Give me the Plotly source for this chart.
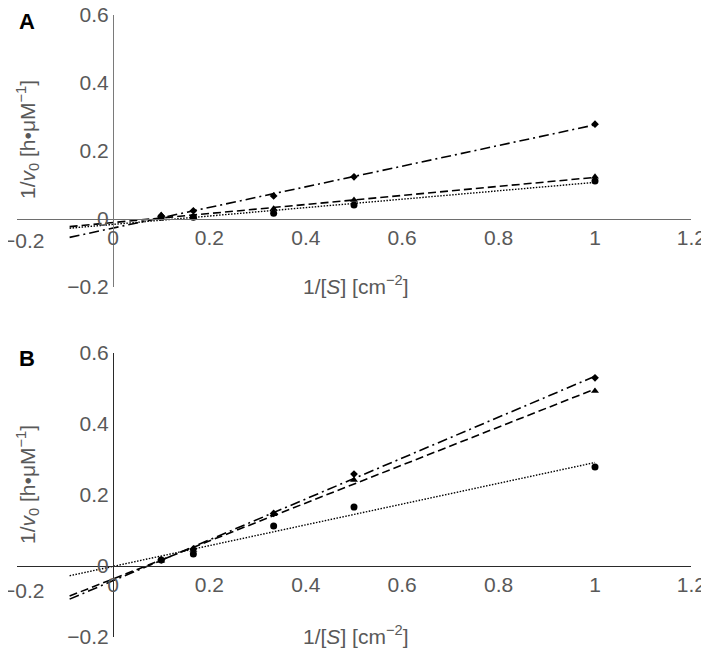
import numpy as np
import plotly.graph_objects as go

# ---- data (1/[S] in cm^-2, 1/v0 in h·µM^-1) ----
inv_s = [0.1, 0.1667, 0.3333, 0.5, 1.0]

a_diamond = [0.009, 0.024, 0.068, 0.124, 0.279]
a_triangle = [0.012, 0.005, 0.030, 0.056, 0.124]
a_circle = [0.005, 0.005, 0.017, 0.041, 0.112]

b_diamond = [0.017, 0.048, 0.148, 0.259, 0.530]
b_triangle = [0.015, 0.045, 0.146, 0.242, 0.493]
b_circle = [0.017, 0.034, 0.113, 0.166, 0.279]

trend_x_start = -0.09
trend_x_end = 1.0

x_ticks = [0, 0.2, 0.4, 0.6, 0.8, 1, 1.2]
x_tick_text = ["0", "0.2", "0.4", "0.6", "0.8", "1", "1.2"]
x_edge_label = "\u22120.2"
y_ticks = [-0.2, 0, 0.2, 0.4, 0.6]
y_tick_text = ["\u22120.2", "0", "0.2", "0.4", "0.6"]

# page body has an 8px margin; figure fills the rest of the 709x652 window
OFF = 8
W, H = 709 - OFF, 652 - OFF
FONT = "Liberation Sans, Arial, sans-serif"
TICK_COLOR = "#595959"


def px(X):
    return (X - OFF) / W


def py(Y):
    return 1 - (Y - OFF) / H


x_dom = [px(16.6), px(691.4)]
a_dom = [py(287), py(15)]
b_dom = [py(637), py(353)]

X_RANGE = [-0.2, 1.2]
Y_RANGE = [-0.2, 0.6]

series_style = [
    ("diamond", 6, "10px,4px,2px,4px", 1.6),
    ("triangle-up", 7, "8px,4px", 1.6),
    ("circle", 7, "1.5px,1.5px", 1.4),
]

fig = go.Figure()


def add_panel(xa, ya, values_list):
    for vals, (sym, msize, dash, lw) in zip(values_list, series_style):
        slope, intercept = np.polyfit(inv_s, vals, 1)
        tx = [trend_x_start, trend_x_end]
        ty = [slope * t + intercept for t in tx]
        fig.add_trace(go.Scatter(x=tx, y=ty, mode="lines", xaxis=xa, yaxis=ya,
                                 line=dict(color="black", width=lw, dash=dash),
                                 hoverinfo="skip", showlegend=False))
        fig.add_trace(go.Scatter(x=inv_s, y=vals, mode="markers", xaxis=xa, yaxis=ya,
                                 marker=dict(symbol=sym, size=msize, color="black"),
                                 showlegend=False))


add_panel("x", "y", [a_diamond, a_triangle, a_circle])
add_panel("x2", "y2", [b_diamond, b_triangle, b_circle])


def x_pos(dom):
    return dom[0] + (0 - Y_RANGE[0]) / (Y_RANGE[1] - Y_RANGE[0]) * (dom[1] - dom[0])


y_axis_x = x_dom[0] + (0 - X_RANGE[0]) / (X_RANGE[1] - X_RANGE[0]) * (x_dom[1] - x_dom[0])

TICKFONT = dict(family=FONT, size=21, color=TICK_COLOR)
common_x = dict(range=X_RANGE, domain=x_dom, anchor="free", showgrid=False, zeroline=False,
                showline=True, linewidth=1, ticks="", tickvals=x_ticks, ticktext=x_tick_text,
                tickfont=TICKFONT, automargin=False, fixedrange=True,
                ticklabeloverflow="allow")
common_y = dict(range=Y_RANGE, anchor="free", position=y_axis_x, showgrid=False, zeroline=False,
                showline=True, linewidth=1, ticks="", tickvals=y_ticks, ticktext=y_tick_text,
                tickfont=TICKFONT, automargin=False, fixedrange=True,
                ticklabeloverflow="allow")

fig.update_layout(
    width=W, height=H,
    margin=dict(l=0, r=0, t=0, b=0, autoexpand=False),
    paper_bgcolor="white", plot_bgcolor="white",
    xaxis=dict(common_x, position=x_pos(a_dom), linecolor="#6e6e6e"),
    yaxis=dict(common_y, domain=a_dom, linecolor="#7a7a7a"),
    xaxis2=dict(common_x, position=x_pos(b_dom), linecolor="#2a2a2a"),
    yaxis2=dict(common_y, domain=b_dom, linecolor="#2a2a2a"),
    font=dict(family=FONT),
)

x_title = "1/[<i>S</i>] [cm<sup>\u22122</sup>]"
y_title = "1/<i>v</i><sub>0</sub> [h\u2022\u03bcM<sup>\u22121</sup>]"

for lbl, yc in (("<b>A</b>", 22), ("<b>B</b>", 358)):
    fig.add_annotation(xref="paper", yref="paper", x=px(27), y=py(yc), text=lbl,
                       showarrow=False, xanchor="center", yanchor="middle",
                       font=dict(family=FONT, size=22, color="black"))

# leftmost x tick label, kept inside the page like in the reference
for yc in (240, 590):
    fig.add_annotation(xref="paper", yref="paper", x=px(23), y=py(yc), text=x_edge_label,
                       showarrow=False, xanchor="center", yanchor="middle",
                       font=TICKFONT)

for yc in (285, 635):
    fig.add_annotation(xref="paper", yref="paper", x=px(355), y=py(yc), text=x_title,
                       showarrow=False, xanchor="center", yanchor="middle",
                       font=dict(family=FONT, size=21, color=TICK_COLOR))
for yc in (140, 485):
    fig.add_annotation(xref="paper", yref="paper", x=px(27), y=py(yc), text=y_title,
                       showarrow=False, xanchor="center", yanchor="middle", textangle=-90,
                       font=dict(family=FONT, size=21, color=TICK_COLOR))

fig.write_html("out.html")
